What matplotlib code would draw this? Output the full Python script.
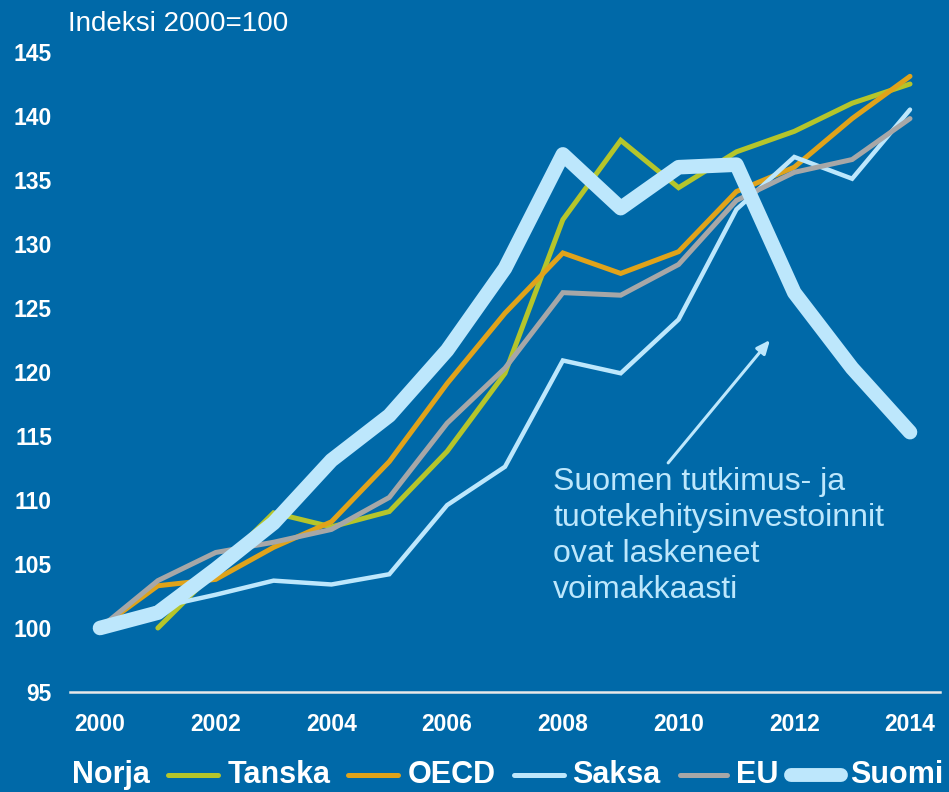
import matplotlib
matplotlib.use("Agg")
import matplotlib.pyplot as plt
from matplotlib.lines import Line2D

years = list(range(2000, 2015))
tanska_years = list(range(2001, 2015))
tanska = [100.0, 104.5, 109.0, 107.9, 109.1, 113.8, 119.9, 131.9, 138.1, 134.4, 137.2, 138.8, 141.0, 142.5]
oecd = [100.0, 103.3, 103.8, 106.3, 108.3, 113.0, 119.1, 124.6, 129.3, 127.7, 129.4, 134.1, 136.0, 139.8, 143.1]
saksa = [100.0, 101.6, 102.6, 103.7, 103.4, 104.2, 109.6, 112.6, 120.9, 119.9, 124.1, 132.7, 136.8, 135.1, 140.5]
eu = [100.0, 103.7, 105.9, 106.7, 107.7, 110.2, 116.0, 120.3, 126.2, 126.0, 128.4, 133.4, 135.6, 136.6, 139.8]
suomi = [100.0, 101.2, 104.6, 108.2, 113.1, 116.6, 121.7, 128.1, 137.0, 132.8, 136.0, 136.2, 126.2, 120.3, 115.3]

legend_labels = ["Norja", "Tanska", "OECD", "Saksa", "EU", "Suomi"]
yticks = [95, 100, 105, 110, 115, 120, 125, 130, 135, 140, 145]
xticks = [2000, 2002, 2004, 2006, 2008, 2010, 2012, 2014]

BG = "#0069A8"
C_TANSKA = "#B5C52B"
C_OECD = "#E0A31A"
C_SAKSA = "#BDE7FC"
C_EU = "#A7A7A7"
C_SUOMI = "#BDE7FC"

plt.rcParams['font.family'] = ['Liberation Sans', 'DejaVu Sans']

W, H = 949, 792
fig = plt.figure(figsize=(W / 100, H / 100), dpi=100, facecolor=BG)
ax = fig.add_axes([70 / W, (H - 692) / H, (940 - 70) / W, (692 - 40) / H], facecolor=BG)

pxyr = (910 - 100) / 14
ax.set_xlim(2000 - 30 / pxyr, 2014 + 30 / pxyr)
ax.set_ylim(95, 95 + 652 / 12.8)

kw = dict(solid_capstyle='round', solid_joinstyle='miter')
ax.plot(tanska_years, tanska, color=C_TANSKA, lw=3.6, **kw)
ax.plot(years, oecd, color=C_OECD, lw=3.6, **kw)
ax.plot(years, saksa, color=C_SAKSA, lw=3.2, **kw)
ax.plot(years, eu, color=C_EU, lw=3.6, **kw)
ax.plot(years, suomi, color=C_SUOMI, lw=10.5, solid_capstyle='round', solid_joinstyle='round')

for s in ['top', 'right', 'left']:
    ax.spines[s].set_visible(False)
ax.spines['bottom'].set_color('#E8E8E8')
ax.spines['bottom'].set_linewidth(1.8)

ax.set_yticks(yticks)
ax.set_xticks(xticks)
ax.set_yticklabels([str(v) for v in yticks])
ax.set_xticklabels([str(v) for v in xticks])
ax.tick_params(axis='both', length=0, colors='white', labelsize=16.5)
ax.tick_params(axis='y', pad=13)
ax.tick_params(axis='x', pad=15)
for lab in ax.get_xticklabels() + ax.get_yticklabels():
    lab.set_fontweight('bold')

fig.text(68 / W, 1 - 24 / H, "Indeksi 2000=100", color='white', fontsize=20,
         ha='left', va='center')

# annotation
ax.annotate("", xy=(2011.58, 122.5), xytext=(2009.82, 112.9),
            arrowprops=dict(arrowstyle='-|>,head_length=0.8,head_width=0.35', color=C_SAKSA, lw=2.2,
                            shrinkA=0, shrinkB=0))
ax.text(2007.83, 112.6, "Suomen tutkimus- ja\ntuotekehitysinvestoinnit\novat laskeneet\nvoimakkaasti",
        color=C_SAKSA, fontsize=23, ha='left', va='top', linespacing=1.27)

# legend (manual row)
ly = 1 - 775 / H
items = [
    (None, 0, "Norja", 72),
    (C_TANSKA, 3.6, "Tanska", 228),
    (C_OECD, 3.6, "OECD", 408),
    (C_SAKSA, 3.6, "Saksa", 572),
    (C_EU, 3.6, "EU", 736),
    (C_SUOMI, 10, "Suomi", 850),
]
line_spans = {"Tanska": (168, 218), "OECD": (348, 398), "Saksa": (514, 564),
              "EU": (680, 727), "Suomi": (791, 841)}
for color, lw, label, tx in items:
    if color is not None:
        x0, x1 = line_spans[label]
        fig.add_artist(Line2D([x0 / W, x1 / W], [ly, ly], color=color, lw=lw,
                              solid_capstyle='round', transform=fig.transFigure))
    fig.text(tx / W, ly, label, color='white', fontsize=22, fontweight='bold',
             ha='left', va='center')

fig.savefig("out.png", dpi=100, facecolor=BG)
